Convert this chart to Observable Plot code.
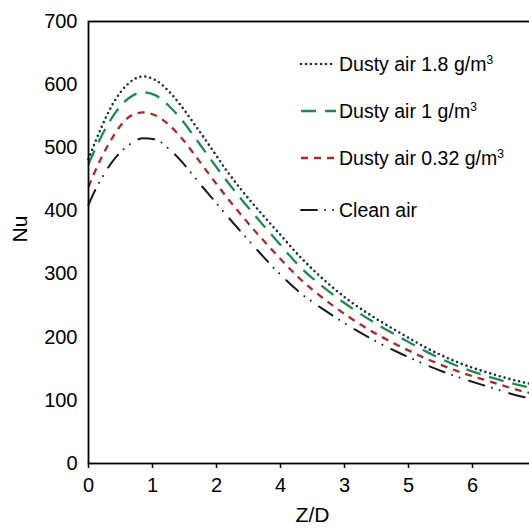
<!DOCTYPE html>
<html>
<head>
<meta charset="utf-8">
<script src="https://cdn.jsdelivr.net/npm/d3@7"></script>
<script src="https://cdn.jsdelivr.net/npm/@observablehq/plot@0.6"></script>
<style>
  html, body { margin: 0; padding: 0; background: #fff; overflow: hidden; }
  #wrap { position: relative; width: 545px; height: 530px; font-family: "Liberation Sans", Arial, Helvetica, sans-serif; }
  #legend { position: absolute; left: 0; top: 0; }
  .row { position: absolute; left: 298px; height: 24px; display: flex; align-items: center; font-size: 19.5px; color: #000; white-space: nowrap; }
  .row svg { display: block; width: 41px; height: 24px; }
  .row sup { font-size: 12px; vertical-align: 0; position: relative; top: -7px; }
</style>
</head>
<body>
<div id="wrap"><div id="chart"></div><div id="legend"></div></div>
<script>
// ---- data ----
const zd = [0, 0.1, 0.2, 0.35, 0.5, 0.65, 0.85, 1.05, 1.25, 1.45, 1.65, 1.9, 2.15, 2.4, 2.7, 3.0, 3.3, 3.7, 4.1, 4.5, 4.9, 5.3, 5.8, 6.3, 6.65, 7.0];
const nuDusty18  = [482, 508, 532, 564, 588, 604, 613, 607, 590, 566, 538, 502, 465, 432, 396, 362, 328, 289, 256, 229, 205, 182, 159, 142, 132, 124];
const nuDusty1   = [474, 497, 518, 545, 566, 580, 588, 583, 567, 545, 518, 483, 449, 417, 381, 346, 312, 277, 247, 221, 198, 176, 153, 136, 126, 118];
const nuDusty032 = [438, 462, 484, 512, 535, 550, 556, 551, 537, 516, 490, 456, 423, 392, 357, 324, 293, 259, 230, 205, 184, 165, 145, 129, 118, 109];
const nuClean    = [410, 432, 451, 475, 493, 506, 515, 513, 499, 479, 454, 424, 394, 365, 331, 299, 271, 242, 216, 193, 173, 155, 136, 120, 109, 101];
const seriesNames = ["Dusty air 1.8 g/m", "Dusty air 1 g/m", "Dusty air 0.32 g/m", "Clean air"];
const seriesSup = ["3", "3", "3", ""];
const xTickValues = [0, 1, 2, 3, 4, 5, 6, 7];
const xTickLabels = ["0", "1", "2", "4", "3", "5", "6", "7"];
const yTickValues = [0, 100, 200, 300, 400, 500, 600, 700];

// ---- styles ----
const styles = [
  {color: "#1c2b68", dash: "0,5", width: 2.6, cap: "round"},
  {color: "#1e8b4c", dash: "15,9", width: 2.3, cap: "butt"},
  {color: "#a82a2a", dash: "7,6", width: 2.3, cap: "butt"},
  {color: "#1a1a1a", dash: "16,8,0,8,0,10", width: 2, cap: "round"}
];

const allSeries = [nuDusty18, nuDusty1, nuDusty032, nuClean];
const tables = allSeries.map((vals, k) => zd.map((x, i) => ({zd: x, nu: vals[i], series: seriesNames[k]})));

const lineMarks = tables.map((rows, k) => Plot.line(rows, {
  x: "zd", y: "nu", curve: "monotone-x",
  stroke: styles[k].color, strokeWidth: styles[k].width,
  strokeDasharray: styles[k].dash, strokeLinecap: styles[k].cap
}));

const chart = Plot.plot({
  width: 545, height: 530,
  marginLeft: 88, marginRight: 9, marginTop: 21, marginBottom: 67,
  style: {fontFamily: "'Liberation Sans', Arial, Helvetica, sans-serif", fontSize: "20px", color: "#000", background: "#fff"},
  x: {domain: [0, 7]},
  y: {domain: [0, 700]},
  marks: [
    ...lineMarks,
    Plot.frame({stroke: "#000", strokeWidth: 1.8}),
    Plot.axisY({ticks: yTickValues, tickSize: 0, tickPadding: 11, label: null, fontSize: 20}),
    Plot.axisX({ticks: xTickValues, tickFormat: d => xTickLabels[d], tickSize: 5, tickPadding: 9, label: null, fontSize: 20, strokeWidth: 1.5}),
    Plot.text(["Z/D"], {frameAnchor: "bottom", dy: 58, fontSize: 21, fill: "#000"}),
    Plot.text(["Nu"], {frameAnchor: "left", dx: -68, rotate: -90, fontSize: 21, fill: "#000"})
  ]
});
document.getElementById("chart").appendChild(chart);

// ---- legend (inside the plot, top right) ----
const legendRowsY = [64, 111, 158, 210];
const legend = document.getElementById("legend");
seriesNames.forEach((name, k) => {
  const row = document.createElement("div");
  row.className = "row";
  row.style.top = (legendRowsY[k] - 12) + "px";
  const s = styles[k];
  row.innerHTML = `<svg viewBox="0 0 41 24"><line x1="3" y1="12" x2="38" y2="12" stroke="${s.color}" stroke-width="${s.width}" stroke-dasharray="${s.dash}" stroke-linecap="${s.cap}"/></svg><span>${name}${seriesSup[k] ? `<sup>${seriesSup[k]}</sup>` : ""}</span>`;
  legend.appendChild(row);
});
</script>
</body>
</html>
